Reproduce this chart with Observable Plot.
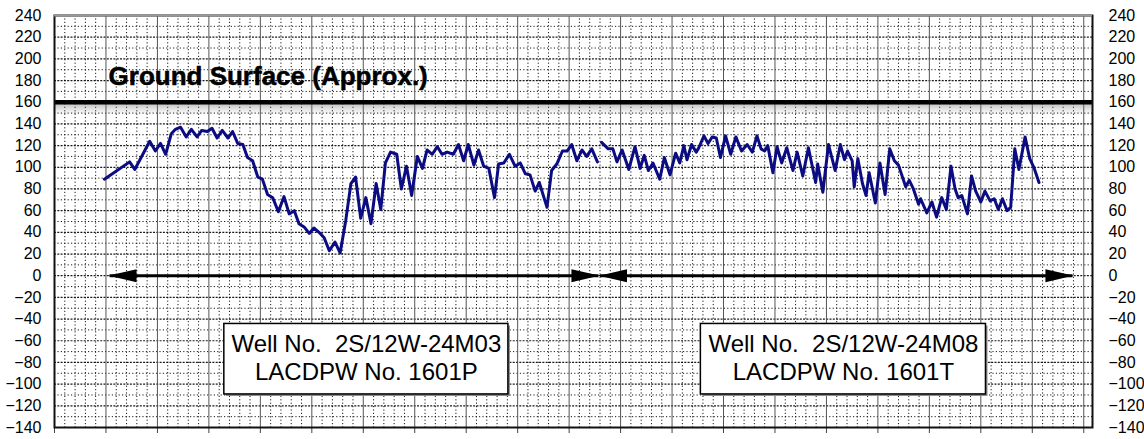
<!DOCTYPE html>
<html>
<head>
<meta charset="utf-8">
<script src="https://cdn.jsdelivr.net/npm/d3@7"></script>
<script src="https://cdn.jsdelivr.net/npm/@observablehq/plot@0.6"></script>
<style>
  html, body { margin: 0; padding: 0; background: #fff; }
  #chart svg { display: block; }
</style>
</head>
<body>
<div id="chart"></div>
<script>
// ---- Data (time in years from start of record, water level in feet) ----
const wellP_t = [
  0.97,1.46,1.56,1.85,1.96,
  2.06,2.16,2.27,2.35,2.45,2.56,2.66,2.77,2.86,2.97,
  3.06,3.16,3.26,3.37,3.46,3.56,3.66,3.75,3.85,3.95,
  4.04,4.14,4.24,4.35,4.46,4.56,4.66,4.75,4.85,4.95,
  5.04,5.14,5.24,5.34,5.45,5.55,5.66,5.76,5.85,5.95,
  6.05,6.15,6.25,6.34,6.43,6.53,6.65,6.74,6.84,6.94,
  7.05,7.15,7.24,7.34,7.44,7.53,7.63,7.75,7.85,7.95,
  8.04,8.15,8.24,8.34,8.44,8.55,8.63,8.73,8.84,8.95,
  9.05,9.15,9.24,9.34,9.42,9.57,9.66,9.76,9.87,9.96,
  10.05,10.15,10.25,10.34,10.44,10.55
];
const wellP_level = [
  89,105,98,124,115,
  122,112,131,135,137,128,135,128,134,133,
  136,127,134,127,133,122,121,109,106,91,
  89,75,72,59,73,57,60,48,45,39,
  44,40,35,23,31,21,51,85,91,53,
  72,48,85,61,104,114,112,80,101,74,
  110,99,116,112,119,112,114,112,121,106,
  121,102,116,101,99,72,103,104,112,101,
  104,94,93,78,86,63,97,103,115,115,
  121,106,116,110,117,105
];
const wellT_t = [
  10.63,10.76,10.85,10.93,11.03,11.16,11.28,11.38,11.46,11.54,
  11.63,11.69,11.76,11.85,11.96,12.07,12.15,12.23,12.29,12.38,
  12.47,12.52,12.62,12.70,12.78,12.86,12.94,13.04,13.14,13.24,
  13.35,13.46,13.56,13.65,13.73,13.80,13.86,13.96,14.04,14.13,
  14.23,14.35,14.43,14.54,14.65,14.79,14.83,14.93,15.04,15.17,
  15.27,15.35,15.41,15.50,15.54,15.61,15.70,15.77,15.83,15.95,
  16.04,16.14,16.23,16.32,16.40,16.54,16.61,16.69,16.79,16.83,
  16.95,17.05,17.14,17.24,17.33,17.42,17.50,17.56,17.63,17.74,
  17.82,17.90,18.00,18.08,18.18,18.26,18.34,18.42,18.51,18.58,
  18.66,18.74,18.86,18.95,19.03,19.13
];
const wellT_level = [
  123,117,117,105,116,98,119,99,111,97,
  104,97,89,109,93,113,104,120,107,121,
  114,118,129,122,128,127,109,129,112,128,
  115,121,114,129,117,115,120,95,119,104,
  118,97,114,92,118,86,103,77,121,97,
  121,107,115,106,82,108,85,74,95,67,
  104,75,117,106,102,82,88,80,66,71,
  58,68,54,72,61,101,80,72,74,57,
  92,78,68,78,69,71,61,71,60,63,
  117,98,128,108,100,86
];

const yTicks = d3.range(-140, 241, 20);
const xTicks = d3.range(0, 21, 1);
const groundSurface = [160];
const groundLabel = ["Ground Surface (Approx.)"];
const recordFrom = [1.07, 10.60];
const recordTo = [10.57, 19.78];
const wellLine1 = ["Well No.\u00a0 2S/12W-24M03", "Well No.\u00a0 2S/12W-24M08"];
const wellLine2 = ["LACDPW No. 1601P", "LACDPW No. 1601T"];
const boxX1 = [3.30, 12.56];
const boxX2 = [8.82, 18.10];

// ---- Build tables ----
const P = wellP_t.map((t, i) => ({t, v: wellP_level[i]}));
const T = wellT_t.map((t, i) => ({t, v: wellT_level[i]}));
const spans = recordFrom.map((a, i) => ({a, b: recordTo[i]}));
const boxes = boxX1.map((x1, i) => ({x1, x2: boxX2[i], l1: wellLine1[i], l2: wellLine2[i]}));
const X_MAX = 20.17;

const hGridMajor = d3.range(-120, 240, 20);
const hGridMinor = d3.range(-130, 240, 20);
const vMajor = d3.range(1, 21, 1);
const vMinor = [];
for (let i = 0; i <= 20; i++) for (let k = 1; k <= 4; k++) { const v = i + k / 5; if (v < X_MAX) vMinor.push(v); }

// soft shading band just below the ground-surface line (style only)
const SHADE_STEPS = 12;
const shade = d3.range(SHADE_STEPS).map(i => ({top: groundSurface[0] - i, op: 0.55 * Math.pow(1 - i / SHADE_STEPS, 1.3)}));

const chart = Plot.plot({
  width: 1144,
  height: 439,
  marginLeft: 54,
  marginRight: 52,
  marginTop: 15,
  marginBottom: 12,
  style: {fontFamily: "Arial, 'Liberation Sans', sans-serif", fontSize: "16px", background: "#fff", color: "#000"},
  x: {domain: [0, X_MAX], label: null},
  y: {domain: [-140, 240], label: null},
  marks: [
    // grid
    Plot.ruleX(vMinor, {stroke: "#000", strokeWidth: 1, strokeDasharray: "1.2,2.2", strokeOpacity: 0.9}),
    Plot.ruleY(hGridMinor, {stroke: "#000", strokeWidth: 1, strokeDasharray: "1.2,2.2", strokeOpacity: 0.9}),
    Plot.ruleY(hGridMajor, {stroke: "#000", strokeWidth: 1.2, strokeDasharray: "2,1.3", strokeOpacity: 0.9}),
    Plot.ruleX(vMajor, {stroke: "#555", strokeWidth: 1}),
    // ground surface
    Plot.rect(shade, {x1: () => 0, x2: () => X_MAX, y1: "top", y2: d => d.top - 1, fill: "#7a7a7a", fillOpacity: "op"}),
    Plot.ruleY(groundSurface, {stroke: "#000", strokeWidth: 4.5}),
    Plot.text(groundLabel, {x: () => 1.05, y: () => 184, text: d => d, textAnchor: "start", fontSize: 26, fontWeight: "bold", fill: "#000", stroke: "#000", strokeWidth: 0.5}),
    // record span arrows
    Plot.link(spans, {x1: "a", x2: "b", y1: () => 0, y2: () => 0, stroke: "#000", strokeWidth: 3}),
    // label boxes
    Plot.rect(boxes, {x1: "x1", x2: "x2", y1: () => -44.5, y2: () => -109.5, fill: "#888", dx: 2, dy: 2}),
    Plot.rect(boxes, {x1: "x1", x2: "x2", y1: () => -44.5, y2: () => -109.5, fill: "#fff", stroke: "#000", strokeWidth: 1.5}),
    Plot.text(boxes, {x: d => (d.x1 + d.x2) / 2, y: () => -63.5, text: "l1", fontSize: 24, fill: "#000"}),
    Plot.text(boxes, {x: d => (d.x1 + d.x2) / 2, y: () => -89.5, text: "l2", fontSize: 24, fill: "#000"}),
    // hydrographs
    Plot.line(P, {x: "t", y: "v", stroke: "#0c0c82", strokeWidth: 3, strokeLinejoin: "round"}),
    Plot.line(T, {x: "t", y: "v", stroke: "#0c0c82", strokeWidth: 3, strokeLinejoin: "round"}),
    // axes
    Plot.axisY({ticks: yTicks, anchor: "left", tickSize: 0, tickPadding: 13, label: null, fontSize: 16}),
    Plot.axisY({ticks: yTicks, anchor: "right", tickSize: 0, tickPadding: 16, label: null, fontSize: 16}),
    Plot.axisX({ticks: xTicks, anchor: "bottom", tickSize: 6, tickFormat: () => "", label: null, stroke: "#444"}),
    // frame
    Plot.frame({stroke: "#111", strokeWidth: 2}),
    Plot.ruleY([240], {stroke: "#999", strokeWidth: 2})
  ]
});

const svg = d3.select(chart);
const defs = svg.insert("defs", ":first-child");
defs.append("marker").attr("id", "arrowHead")
  .attr("viewBox", "0 0 28 14").attr("refX", 27).attr("refY", 7)
  .attr("markerWidth", 28).attr("markerHeight", 14)
  .attr("markerUnits", "userSpaceOnUse").attr("orient", "auto-start-reverse")
  .append("path").attr("d", "M0,0.5 L28,7 L0,13.5 Z").attr("fill", "#000");
svg.selectAll('g[aria-label="link"] path')
  .attr("marker-start", "url(#arrowHead)")
  .attr("marker-end", "url(#arrowHead)");

document.getElementById("chart").appendChild(chart);
</script>
</body>
</html>
